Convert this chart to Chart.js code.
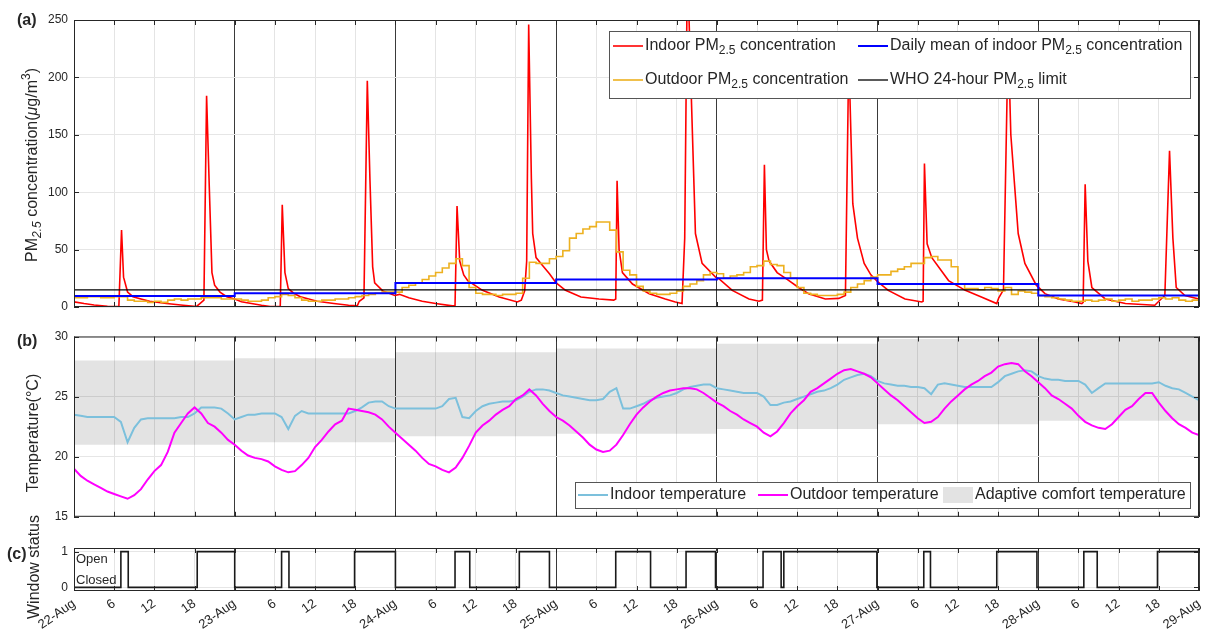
<!DOCTYPE html>
<html>
<head>
<meta charset="utf-8">
<script src="https://cdn.jsdelivr.net/npm/chart.js@4.4.1/dist/chart.umd.min.js"></script>
<style>
  body { margin: 0; background: #fff; }
  #wrap { position: relative; width: 1207px; height: 637px; overflow: hidden; }
  #wrap canvas { position: absolute; left: 0; }
</style>
</head>
<body>
<div id="wrap">
  <canvas id="pm" width="1207" height="330" style="top:0px"></canvas>
  <canvas id="temp" width="1207" height="212" style="top:318px"></canvas>
  <canvas id="win" width="1207" height="157" style="top:480px"></canvas>
</div>
<script>
// x axis: hours since 22-Aug 00:00
const dayLabels = ['22-Aug', '23-Aug', '24-Aug', '25-Aug', '26-Aug', '27-Aug', '28-Aug', '29-Aug'];

// (a) indoor PM2.5 (hour, value)
const pmInTime = [
  0, 1.5, 3, 5, 6.7, 7.1, 7.4, 8, 8.8, 10, 11.3, 13.8, 16.3, 18.3, 18.8, 19.4, 19.8, 20.2, 20.6, 21, 21.8, 22.8,
  24, 25, 26.5, 28, 29.3, 30.8, 31.1, 31.5, 32, 32.8, 33.8, 36.3, 38.8, 41, 42.3, 42.6, 43.3, 43.8, 44.2, 44.6, 44.9, 46.1,
  47.9, 48.6, 50, 52, 54, 56.5, 56.9, 57.2, 57.6, 58.2, 58.8, 61, 63.5, 66.2, 66.8, 67.3, 67.6, 67.9, 68.3, 68.5, 69, 70, 71,
  72, 73.4, 75.7, 78.4, 80.6, 80.9, 81.1, 81.4, 81.9, 83.4, 85.9, 88.3, 89.8, 90.8, 91.2, 91.6, 92.1, 92.8, 93.8,
  95.8, 96.3, 98.3, 100.8, 102.3, 102.8, 103.1, 103.4, 103.8, 105, 106.5, 108.2, 109.7, 112.2, 114.2, 115.2, 115.7, 116.3, 117, 118, 119,
  120, 121.6, 124.1, 126.6, 126.8, 127, 127.4, 128.1, 130.6, 133.1, 135.5, 137.8, 138.1, 138.8, 139.5, 139.9, 141, 142, 143.7,
  145, 147, 149.5, 150.5, 150.7, 151, 151.4, 152, 154, 157, 161.4, 162, 162.9, 163.6, 164.1, 164.6, 165.9, 168
];
const pmInValue = [
  4.5, 3, 1.8, 0.7, 0.3, 67, 26, 13, 9, 7, 5, 3, 1.5, 0.5, 3, 6, 184, 105, 30, 19, 13, 9,
  7, 4.5, 3, 1.5, 0.5, 0.3, 89, 30, 16, 12, 9, 5, 3, 1.5, 1, 5, 8, 197, 110, 35, 21, 14,
  10, 11, 8, 5, 3, 1, 1, 88, 40, 28, 23, 14.5, 8.7, 4.4, 6, 14, 40, 246, 112, 64, 43, 36, 29,
  21, 14.5, 8.7, 7, 6, 7, 110, 50, 30, 20, 11.6, 7, 4.4, 3, 60, 300, 200, 64, 38,
  26, 24.7, 14.5, 7, 5, 6, 124, 50, 40, 30, 24, 17, 11.6, 7, 7.5, 10, 220, 90, 60, 38, 28,
  22, 14.5, 7, 4.4, 5, 125, 55, 43, 23, 14.5, 8.7, 3, 8, 15, 235, 150, 64, 38, 19,
  11.6, 7, 4.4, 3, 4, 107, 40, 17, 7, 3, 1.5, 5, 10, 136, 60, 17, 10, 7
];

// (a) outdoor PM2.5, hourly (stairs)
const pmOutdoor = [
  8, 8, 9, 9, 8, 8, 9, 9, 6, 5, 5, 4, 5, 4, 6, 7, 6, 7, 7, 8, 8, 8, 7, 7,
  7, 6, 5, 5, 6, 8, 9, 11, 10, 8, 6, 5, 5, 6, 6, 7, 7, 8, 9, 10, 11, 12, 13, 13,
  13, 17, 19, 21, 24, 27, 30, 34, 38, 42, 36, 17, 12, 11, 11, 10, 11, 11, 12, 25, 39, 38, 38, 42,
  44, 49, 60, 64, 68, 70, 74, 74, 67, 48, 32, 28, 18, 14, 12, 11, 11, 12, 14, 18, 20, 23, 28, 30,
  29, 25, 27, 28, 30, 35, 36, 40, 37, 36, 30, 25, 17, 12, 11, 10, 10, 10, 11, 13, 17, 20, 23, 26,
  28, 28, 31, 33, 35, 38, 38, 43, 44, 41, 41, 35, 20, 16, 16, 15, 17, 16, 14, 17, 11, 14, 13, 12,
  10, 9, 8, 7, 6, 5, 5, 6, 5, 6, 7, 5, 6, 7, 5, 6, 6, 7, 8, 7, 8, 6, 5, 6, 6
];
const dailyMean = [9.5, 12, 21, 24, 25, 20, 10];
const whoLimit = 15;

// (b) temperatures, hourly
const tIndoor = [
  23.5, 23.4, 23.3, 23.3, 23.3, 23.3, 23.3, 22.9, 21.2, 22.4, 23.1, 23.2, 23.2, 23.2, 23.2, 23.2, 23.3, 23.3, 23.6, 24.1, 24.1, 24.1, 24.0, 23.6,
  23.1, 23.3, 23.5, 23.5, 23.6, 23.6, 23.6, 23.3, 22.3, 23.4, 23.8, 23.6, 23.6, 23.6, 23.6, 23.6, 23.6, 23.6, 23.8, 24.1, 24.5, 24.6, 24.6, 24.2,
  24.0, 24.0, 24.0, 24.0, 24.0, 24.0, 24.0, 24.2, 24.8, 24.9, 23.3, 23.2, 23.8, 24.2, 24.4, 24.5, 24.6, 24.6, 24.7, 25.0, 25.4, 25.6, 25.6, 25.5,
  25.3, 25.1, 25.0, 24.9, 24.8, 24.7, 24.7, 24.8, 25.4, 25.7, 24.0, 24.0, 24.2, 24.4, 24.7, 24.9, 25.0, 25.1, 25.3, 25.6, 25.8, 25.9, 26.0, 26.0,
  25.7, 25.6, 25.5, 25.4, 25.3, 25.3, 25.3, 25.0, 24.3, 24.3, 24.5, 24.6, 24.8, 25.0, 25.2, 25.4, 25.5, 25.7, 26.0, 26.4, 26.6, 26.8, 26.9, 26.7,
  26.3, 26.1, 26.0, 25.9, 25.9, 25.8, 25.8, 25.7, 25.2, 26.0, 26.1, 26.0, 25.9, 25.8, 25.8, 25.8, 25.8, 25.8, 26.2, 26.7, 26.9, 27.1, 27.2, 27.1,
  26.7, 26.5, 26.4, 26.4, 26.3, 26.3, 26.3, 26.0, 25.3, 25.7, 26.1, 26.1, 26.1, 26.1, 26.1, 26.1, 26.1, 26.1, 26.2, 25.9, 25.7, 25.6, 25.3, 25.0, 24.7
];
const tOutdoor = [
  19.0, 18.4, 18.0, 17.7, 17.4, 17.1, 16.9, 16.7, 16.5, 16.8, 17.3, 18.1, 18.8, 19.3, 20.4, 22.0, 22.8, 23.6, 24.1, 23.6, 22.8, 22.5, 22.0, 21.4,
  21.0, 20.5, 20.1, 19.9, 19.8, 19.6, 19.2, 18.9, 18.7, 18.8, 19.3, 19.9, 20.8, 21.4, 22.1, 22.7, 23.0, 24.0, 23.9, 23.8, 23.7, 23.5, 23.1, 22.5,
  22.0, 21.5, 21.0, 20.5, 19.9, 19.4, 19.2, 18.9, 18.7, 19.1, 19.9, 20.9, 22.0, 22.6, 23.0, 23.5, 23.9, 24.2, 24.8, 25.1, 25.6, 25.1, 24.4, 23.8,
  23.3, 23.0, 22.6, 22.1, 21.6, 21.0, 20.6, 20.4, 20.5, 21.0, 21.8, 22.7, 23.5, 24.1, 24.6, 25.0, 25.3, 25.5, 25.6, 25.7, 25.7, 25.6, 25.3, 24.9,
  24.5, 24.2, 23.8, 23.5, 23.1, 22.8, 22.5, 22.0, 21.7, 22.1, 22.8, 23.6, 24.2, 24.7, 25.4, 25.7, 26.1, 26.5, 26.9, 27.2, 27.3, 27.1, 26.9, 26.6,
  26.1, 25.6, 25.1, 24.7, 24.2, 23.7, 23.2, 22.8, 22.9, 23.3, 24.0, 24.6, 25.1, 25.6, 26.0, 26.3, 26.7, 27.0, 27.5, 27.7, 27.8, 27.7, 27.1, 26.7,
  26.2, 25.7, 25.1, 24.8, 24.4, 24.0, 23.4, 22.9, 22.6, 22.4, 22.3, 22.7, 23.3, 23.9, 24.2, 24.8, 25.3, 25.3, 24.5, 23.8, 23.2, 22.7, 22.4, 22.0, 21.8
];
const comfortLow = [21.0, 21.2, 21.7, 21.9, 22.3, 22.7, 23.0];
const comfortHigh = [28.0, 28.2, 28.7, 29.0, 29.4, 29.8, 30.1];

// (c) window status changes (hour, state)
const winTime = [0, 7.0, 8.1, 18.4, 24.0, 31.0, 32.1, 41.9, 48.0, 56.9, 59.1, 66.5, 71.0, 80.9, 86.1, 91.4, 95.8,
  102.9, 105.6, 106.0, 119.9, 126.9, 127.9, 137.8, 143.8, 150.8, 152.8, 161.8, 168];
const winState = [0, 1, 0, 1, 0, 1, 0, 1, 0, 1, 0, 1, 0, 1, 0, 1, 0, 1, 0, 1, 0, 1, 0, 1, 0, 1, 0, 1, 1];

const FONT = '"Liberation Sans", Arial, Helvetica, sans-serif';
const INK = '#262626';
Chart.defaults.font.family = FONT;

const hours = pmOutdoor.map((v, i) => i);
const xMax = hours[hours.length - 1];
function xy(xs, ys) { return ys.map((v, i) => ({ x: xs[i], y: v })); }
function perDay(vals) {
  const pts = vals.map((v, i) => ({ x: i * 24, y: v }));
  pts.push({ x: xMax, y: vals[vals.length - 1] });
  return pts;
}

// text with PM2.5 subscripts etc
function runs(label) {
  const out = [];
  label.split(/(PM2\.5)/).forEach(s => {
    if (s === 'PM2.5') out.push(['PM', 'n'], ['2.5', 'sub']);
    else if (s) out.push([s, 'n']);
  });
  return out;
}
function rich(ctx, parts, x, y, size, draw) {
  let cx = x;
  for (const [t, k] of parts) {
    const small = k === 'sub' || k === 'sup' || k === 'isub';
    const italic = k === 'i' || k === 'isub';
    ctx.font = (italic ? 'italic ' : '') + (small ? Math.round(size * 0.72) : size) + 'px ' + FONT;
    const dy = (k === 'sub' || k === 'isub') ? size * 0.32 : (k === 'sup' ? -size * 0.42 : 0);
    if (draw) ctx.fillText(t, cx, y + dy);
    cx += ctx.measureText(t).width;
  }
  return cx - x;
}
function yTitle(ctx, parts, cx, cy, size) {
  ctx.save();
  ctx.translate(cx, cy);
  ctx.rotate(-Math.PI / 2);
  ctx.fillStyle = INK;
  ctx.textBaseline = 'middle';
  const w = rich(ctx, parts, 0, 0, size, false);
  rich(ctx, parts, -w / 2, 0, size, true);
  ctx.restore();
}
function panelTag(ctx, txt, x, y) {
  ctx.font = 'bold 16px ' + FONT;
  ctx.fillStyle = INK;
  ctx.textBaseline = 'middle';
  ctx.fillText(txt, x, y);
}

// box + inward ticks like matlab
const framePlugin = {
  id: 'frame',
  afterDatasetsDraw(chart) {
    const { ctx, chartArea: a, scales } = chart;
    ctx.save();
    ctx.strokeStyle = INK;
    ctx.lineWidth = 1;
    ctx.beginPath();
    scales.x.ticks.forEach(t => {
      const px = Math.round(scales.x.getPixelForValue(t.value)) + 0.5;
      ctx.moveTo(px, a.top); ctx.lineTo(px, a.top + 5);
      ctx.moveTo(px, a.bottom); ctx.lineTo(px, a.bottom - 5);
    });
    scales.y.ticks.forEach(t => {
      const py = Math.round(scales.y.getPixelForValue(t.value)) + 0.5;
      ctx.moveTo(a.left, py); ctx.lineTo(a.left + 5, py);
      ctx.moveTo(a.right, py); ctx.lineTo(a.right - 5, py);
    });
    ctx.stroke();
    ctx.strokeRect(a.left + 0.5, a.top + 0.5, a.width - 1, a.height - 1);
    ctx.restore();
  }
};

function deco(top, fn) {
  return {
    id: 'deco',
    afterDraw(chart) {
      const ctx = chart.ctx;
      ctx.save();
      ctx.translate(0, -top);
      fn(ctx, chart);
      ctx.restore();
    }
  };
}

function panelOptions(yMin, yMax, yStep, showX, padTop, padBottom, xHeight) {
  return {
    responsive: false,
    animation: false,
    events: [],
    layout: { padding: { top: padTop, bottom: padBottom, left: 0, right: 8 } },
    elements: { point: { radius: 0 }, line: { tension: 0 } },
    plugins: { legend: { display: false }, tooltip: { enabled: false } },
    scales: {
      x: {
        type: 'linear', min: 0, max: xMax,
        border: { display: false },
        grid: {
          color: c => (c.tick && c.tick.value % 24 === 0) ? '#3a3a3a' : '#e4e4e4',
          drawTicks: false
        },
        ticks: {
          display: showX, stepSize: 6, autoSkip: false, minRotation: 35, maxRotation: 35,
          padding: 5, color: INK, font: { size: 13 },
          callback: v => v % 24 === 0 ? dayLabels[v / 24] : String(v % 24)
        },
        // keep the plot box the same width in every panel
        afterFit: s => { s.height = xHeight; s.paddingLeft = 0; s.paddingRight = 0; }
      },
      y: {
        min: yMin, max: yMax,
        border: { display: false },
        grid: { color: '#e6e6e6', drawTicks: false },
        ticks: { stepSize: yStep, padding: 6, color: INK, font: { size: 12 } },
        afterFit: s => { s.width = 74; }
      }
    }
  };
}

// ---- (a) PM2.5
const legendA = [
  ['Indoor PM2.5 concentration', 613, 46],
  ['Daily mean of indoor PM2.5 concentration', 858, 46],
  ['Outdoor PM2.5 concentration', 613, 80],
  ['WHO 24-hour PM2.5 limit', 858, 80]
];
new Chart(document.getElementById('pm'), {
  type: 'line',
  data: {
    datasets: [
      { label: 'WHO 24-hour PM2.5 limit', data: [{ x: 0, y: whoLimit }, { x: xMax, y: whoLimit }], borderColor: '#000000', borderWidth: 1.3 },
      { label: 'Daily mean of indoor PM2.5 concentration', data: perDay(dailyMean), borderColor: '#0000ff', borderWidth: 2, stepped: true },
      { label: 'Outdoor PM2.5 concentration', data: xy(hours, pmOutdoor), borderColor: '#edb120', borderWidth: 1.6, stepped: true },
      { label: 'Indoor PM2.5 concentration', data: xy(pmInTime, pmInValue), borderColor: '#ff0000', borderWidth: 1.6 }
    ]
  },
  options: panelOptions(0, 250, 50, false, 20, 23, 0),
  plugins: [framePlugin, deco(0, (ctx, chart) => {
    panelTag(ctx, '(a)', 17, 21);
    yTitle(ctx, [['PM', 'n'], ['2.5', 'isub'], [' concentration(', 'n'], ['\u03bc', 'i'], ['g/m', 'n'], ['3', 'sup'], [')', 'n']], 33, 165, 16);
    ctx.fillStyle = '#fff';
    ctx.fillRect(609, 31, 581, 67);
    ctx.strokeStyle = '#555';
    ctx.lineWidth = 1;
    ctx.strokeRect(609.5, 31.5, 581, 67);
    legendA.forEach(([label, x, y]) => {
      const ds = chart.data.datasets.find(d => d.label === label);
      ctx.strokeStyle = ds.borderColor;
      ctx.lineWidth = ds.borderWidth;
      ctx.beginPath(); ctx.moveTo(x, y); ctx.lineTo(x + 30, y); ctx.stroke();
      ctx.fillStyle = INK;
      ctx.textBaseline = 'middle';
      rich(ctx, runs(label), x + 32, y, 16, true);
    });
  })]
});

// ---- (b) temperature
const bandFill = 'rgba(0,0,0,0.11)';
new Chart(document.getElementById('temp'), {
  type: 'line',
  data: {
    datasets: [
      { label: 'Outdoor temperature', data: xy(hours, tOutdoor), borderColor: '#ff00ff', borderWidth: 2 },
      { label: 'Indoor temperature', data: xy(hours, tIndoor), borderColor: '#7cc0dc', borderWidth: 2 },
      { label: 'Adaptive comfort temperature', data: perDay(comfortHigh), stepped: true, borderColor: 'rgba(0,0,0,0)', borderWidth: 1, fill: '+1', backgroundColor: bandFill },
      { label: 'comfort low', data: perDay(comfortLow), stepped: true, borderColor: 'rgba(0,0,0,0)', borderWidth: 1 }
    ]
  },
  options: panelOptions(15, 30, 5, false, 18.5, 13, 0),
  plugins: [framePlugin, deco(318, (ctx, chart) => {
    panelTag(ctx, '(b)', 17, 342);
    yTitle(ctx, [['Temperature(\u00b0C)', 'n']], 34, 433, 16);
    ctx.fillStyle = '#fff';
    ctx.fillRect(575, 482, 615, 26);
    ctx.strokeStyle = '#555';
    ctx.lineWidth = 1;
    ctx.strokeRect(575.5, 482.5, 615, 26);
    const items = [['Indoor temperature', 578], ['Outdoor temperature', 758], ['Adaptive comfort temperature', 943]];
    items.forEach(([label, x]) => {
      const ds = chart.data.datasets.find(d => d.label === label);
      if (ds.fill) {
        ctx.fillStyle = '#e3e3e3';
        ctx.fillRect(x, 487, 30, 16);
      } else {
        ctx.strokeStyle = ds.borderColor;
        ctx.lineWidth = ds.borderWidth;
        ctx.beginPath(); ctx.moveTo(x, 495); ctx.lineTo(x + 30, 495); ctx.stroke();
      }
      ctx.fillStyle = INK;
      ctx.textBaseline = 'middle';
      rich(ctx, runs(label), x + 32, 495, 16, true);
    });
  })]
});

// ---- (c) window
const winOpts = panelOptions(-0.1, 1.1, 1, true, 68, 0, 46);
winOpts.scales.y.afterBuildTicks = s => { s.ticks = [{ value: 0 }, { value: 1 }]; };
new Chart(document.getElementById('win'), {
  type: 'line',
  data: {
    datasets: [
      { label: 'Window status', data: xy(winTime, winState), borderColor: '#1a1a1a', borderWidth: 1.6, stepped: true }
    ]
  },
  options: winOpts,
  plugins: [framePlugin, deco(480, (ctx, chart) => {
    panelTag(ctx, '(c)', 7, 555);
    yTitle(ctx, [['Window status', 'n']], 35, 567, 16);
    ctx.fillStyle = INK;
    ctx.textBaseline = 'middle';
    ctx.font = '13px ' + FONT;
    ctx.fillText('Open', 76, 559);
    ctx.fillText('Closed', 76, 580);
  })]
});
</script>
</body>
</html>
